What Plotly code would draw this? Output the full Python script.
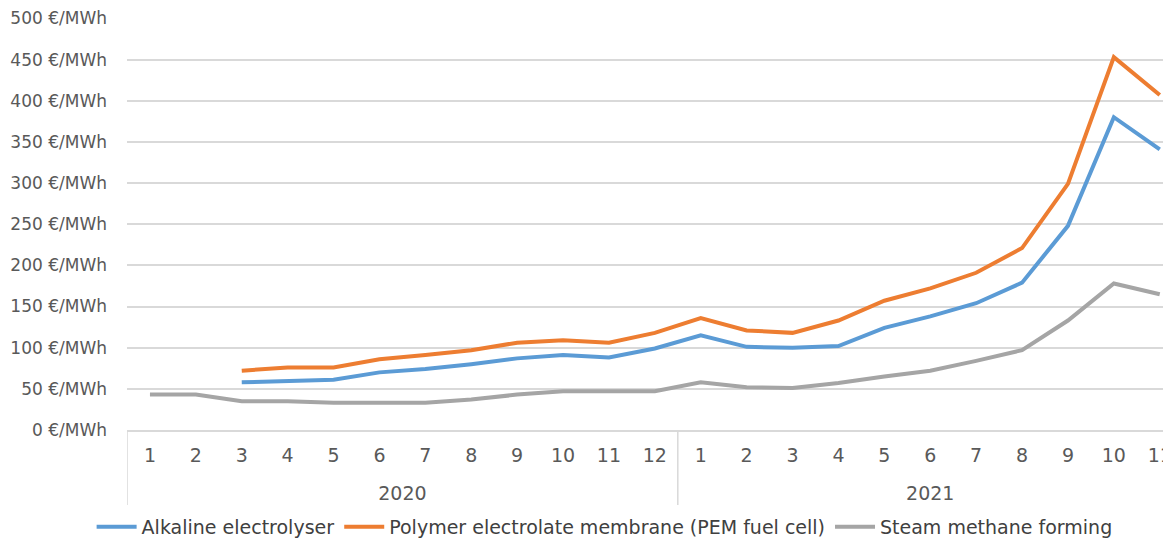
import plotly.graph_objects as go

years = ["2020"] * 12 + ["2021"] * 11
months = [str(m) for m in range(1, 13)] + [str(m) for m in range(1, 12)]
keys = [f"{y}-{m}" for y, m in zip(years, months)]

alkaline = [None, None, 58, 60, 61, 70, 74, 80, 87, 91, 88, 99,
            115, 101, 100, 102, 124, 138, 154, 179, 248, 380, 341]
pem = [None, None, 72, 76, 76, 86, 91, 97, 106, 109, 106, 118,
       136, 121, 118, 133, 157, 172, 191, 221, 299, 453, 407]
steam = [43, 43, 35, 35, 33, 33, 33, 37, 43, 47, 47, 47,
         58, 52, 51, 57, 65, 72, 84, 97, 133, 178, 165]

year_labels = ["2020", "2021"]
y_ticks = list(range(0, 501, 50))
y_text = [f"{v} €/MWh" for v in y_ticks]

series = [
    ("Alkaline electrolyser", alkaline, "#5B9BD5"),
    ("Polymer electrolate membrane (PEM fuel cell)", pem, "#ED7D31"),
    ("Steam methane forming", steam, "#A5A5A5"),
]

fig = go.Figure()
for name, vals, color in series:
    fig.add_trace(go.Scatter(
        x=keys, y=vals, name=name, mode="lines",
        line=dict(color=color, width=4), connectgaps=False,
    ))

# year-group centres and boundaries in category-index units
n_2020 = years.count("2020")
n_2021 = years.count("2021")
year_pos = [(n_2020 - 1) / 2, n_2020 + (n_2021 - 1) / 2]
dividers = [-0.5, n_2020 - 0.5]

# invisible helper trace on the year axis
fig.add_trace(go.Scatter(x=year_pos, y=[None, None], xaxis="x2", showlegend=False,
                         hoverinfo="skip", mode="lines"))

grid = "#d9d9d9"
for d in dividers:
    fig.add_shape(type="line", xref="x2", yref="paper", x0=d, x1=d, y0=0, y1=-0.182,
                  line=dict(color=grid, width=1.5))

font = "DejaVu Sans"
xr = [-0.5, 22.245]
fig.update_layout(
    width=1163, height=532,
    margin=dict(l=119, r=0, t=10, b=110),
    paper_bgcolor="white", plot_bgcolor="white",
    font=dict(family=font, color="#595959", size=16),
    showlegend=True,
    legend=dict(orientation="h", x=0.513, xanchor="center", xref="container",
                y=0.0244, yref="container", yanchor="middle",
                font=dict(size=19, color="#404040", family=font),
                itemwidth=40, traceorder="normal"),
    xaxis=dict(type="category", categoryorder="array", categoryarray=keys,
               tickvals=keys, ticktext=months, range=xr,
               showgrid=False, showline=True, linecolor=grid, linewidth=1.5,
               ticks="", ticklabelstandoff=7, automargin=False,
               tickfont=dict(size=19, color="#595959", family=font)),
    xaxis2=dict(type="linear", overlaying="x", anchor="y", side="bottom", range=xr,
                tickvals=year_pos, ticktext=year_labels, showgrid=False,
                showline=False, zeroline=False, ticks="", ticklabelstandoff=50,
                automargin=False,
                tickfont=dict(size=19, color="#595959", family=font)),
    yaxis=dict(range=[0, 500.5], tickvals=y_ticks, ticktext=y_text,
               showgrid=True, gridcolor=grid, gridwidth=1.5,
               zeroline=False, showline=False, ticks="",
               ticklabelstandoff=19, automargin=False, ticklabeloverflow="allow",
               tickfont=dict(size=17, color="#595959", family=font)),
)

fig.write_html("out.html")
